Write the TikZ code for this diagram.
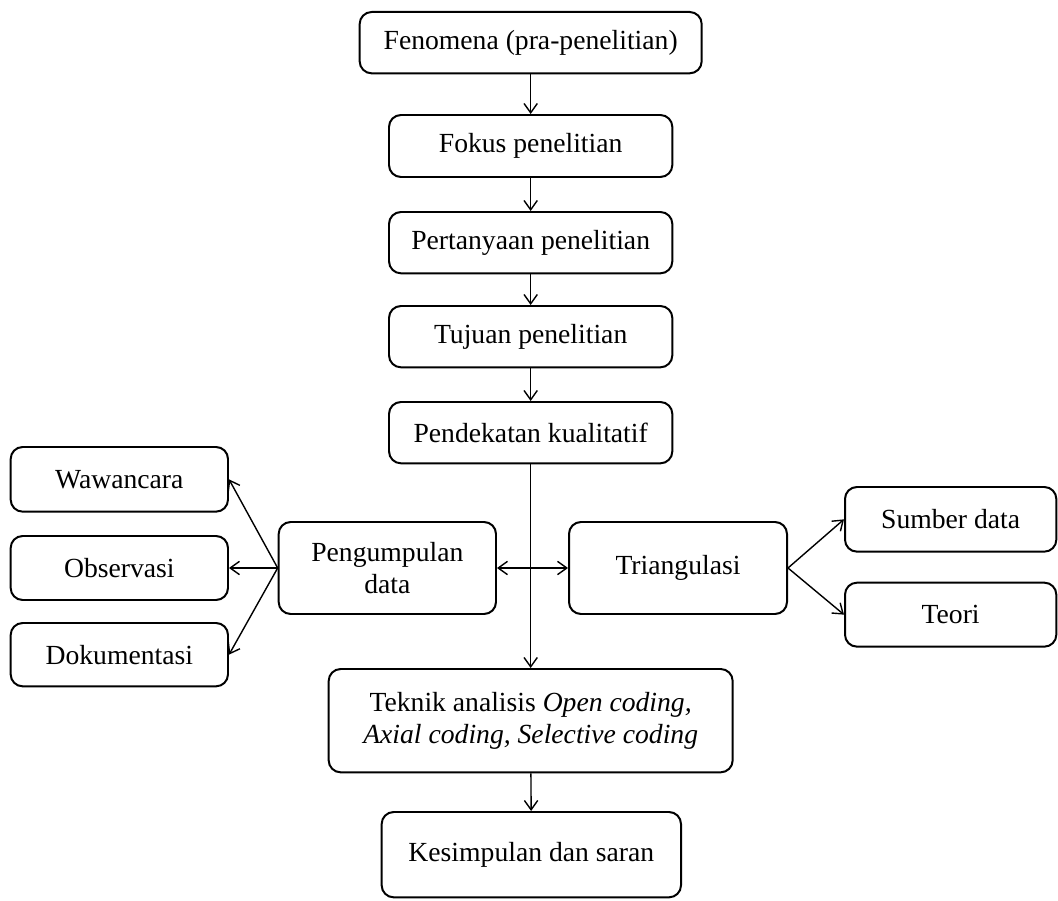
\documentclass[tikz,border=0pt]{standalone}
\usepackage{fontspec}
\setmainfont{Liberation Serif}
\usetikzlibrary{arrows.meta}

\begin{document}
\begin{tikzpicture}[>={Straight Barb[length=1.4mm,width=2mm]}, line width=0.6pt,
  box/.style={draw, line width=0.85pt, rounded corners=0.18cm, align=center,
    inner sep=0pt, font=\fontsize{11.8}{13.8}\selectfont}]
  \useasboundingbox (0,0) rectangle (15.87,13.5);
  % main column
  \node[box, minimum width=5.13cm, minimum height=0.92cm] (fenomena) at (7.96,12.86) {Fenomena (pra-penelitian)};
  \node[box, minimum width=4.25cm, minimum height=0.93cm] (fokus) at (7.96,11.31) {Fokus penelitian};
  \node[box, minimum width=4.25cm, minimum height=0.92cm] (pertanyaan) at (7.96,9.86) {Pertanyaan penelitian};
  \node[box, minimum width=4.25cm, minimum height=0.92cm] (tujuan) at (7.96,8.45) {Tujuan penelitian};
  \node[box, minimum width=4.25cm, minimum height=0.92cm] (pendekatan) at (7.96,7.01) {Pendekatan kualitatif};
  % data collection
  \node[box, minimum width=3.26cm, minimum height=1.38cm] (pengumpulan) at (5.81,4.98) {Pengumpulan\\data};
  \node[box, minimum width=3.26cm, minimum height=0.97cm] (wawancara) at (1.79,6.31) {Wawancara};
  \node[box, minimum width=3.26cm, minimum height=0.96cm] (observasi) at (1.79,4.98) {Observasi};
  \node[box, minimum width=3.26cm, minimum height=0.95cm] (dokumentasi) at (1.79,3.68) {Dokumentasi};
  % triangulation
  \node[box, minimum width=3.27cm, minimum height=1.38cm] (triangulasi) at (10.17,4.98) {Triangulasi};
  \node[box, minimum width=3.17cm, minimum height=0.97cm] (sumber) at (14.26,5.71) {Sumber data};
  \node[box, minimum width=3.17cm, minimum height=0.96cm] (teori) at (14.26,4.28) {Teori};
  % analysis and conclusion
  \node[box, minimum width=6.06cm, minimum height=1.55cm] (teknik) at (7.96,2.69) {Teknik analisis \textit{Open coding,}\\\textit{Axial coding, Selective coding}};
  \node[box, minimum width=4.49cm, minimum height=1.28cm] (kesimpulan) at (7.97,0.68) {Kesimpulan dan saran};

  \draw[->] (fenomena) -- (fokus);
  \draw[->] (fokus) -- (pertanyaan);
  \draw[->] (pertanyaan) -- (tujuan);
  \draw[->] (tujuan) -- (pendekatan);
  \draw[->] (pendekatan) -- (teknik);
  \draw[->] (teknik) -- (kesimpulan);
  \draw[<->] (pengumpulan) -- (triangulasi);
  \draw[->] (pengumpulan.west) -- (wawancara.east);
  \draw[->] (pengumpulan.west) -- (observasi.east);
  \draw[->] (pengumpulan.west) -- (dokumentasi.east);
  \draw[->] (triangulasi.east) -- (sumber.west);
  \draw[->] (triangulasi.east) -- (teori.west);
\end{tikzpicture}
\end{document}
